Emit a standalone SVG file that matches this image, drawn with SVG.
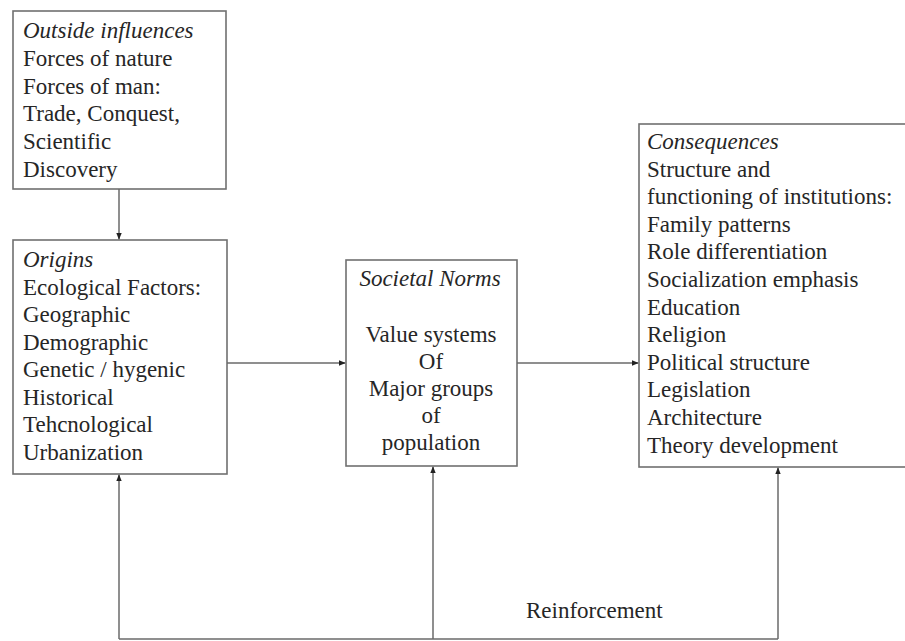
<svg xmlns="http://www.w3.org/2000/svg" width="905" height="641" viewBox="0 0 905 641">
<style>
.box{fill:#fff;stroke:#707070;stroke-width:1.6}
.t{font-family:"Liberation Serif","Times New Roman",serif;font-size:23px;fill:#262626}
.i{font-style:italic}
.c{text-anchor:middle}
.ln{fill:none;stroke:#6a6a6a;stroke-width:1.5}
</style>
<defs>
<marker id="ah" viewBox="0 0 10 10" refX="9" refY="5" markerWidth="7" markerHeight="7" orient="auto" markerUnits="userSpaceOnUse">
<path d="M0,1 L10,5 L0,9 z" fill="#222"/>
</marker>
</defs>
<rect width="905" height="641" fill="#fff"/>
<g id="outside">
<rect class="box" x="13" y="11" width="213" height="178"/>
<text class="t" x="23" y="38"><tspan class="i" x="23" y="38">Outside influences</tspan><tspan x="23" y="66">Forces of nature</tspan><tspan x="23" y="94">Forces of man:</tspan><tspan x="23" y="121">Trade, Conquest,</tspan><tspan x="23" y="149">Scientific</tspan><tspan x="23" y="177">Discovery</tspan></text>
</g>
<g id="origins">
<rect class="box" x="13" y="240" width="214" height="234"/>
<text class="t"><tspan class="i" x="23" y="267">Origins</tspan><tspan x="23" y="294.5">Ecological Factors:</tspan><tspan x="23" y="322">Geographic</tspan><tspan x="23" y="349.5">Demographic</tspan><tspan x="23" y="377">Genetic / hygenic</tspan><tspan x="23" y="404.5">Historical</tspan><tspan x="23" y="432">Tehcnological</tspan><tspan x="23" y="459.5">Urbanization</tspan></text>
</g>
<g id="norms">
<rect class="box" x="346" y="260" width="171" height="206"/>
<text class="t c"><tspan class="i" x="430" y="286">Societal Norms</tspan><tspan x="431" y="342">Value systems</tspan><tspan x="431" y="369">Of</tspan><tspan x="431" y="396">Major groups</tspan><tspan x="431" y="423">of</tspan><tspan x="431" y="450">population</tspan></text>
</g>
<g id="consequences">
<rect class="box" x="639" y="124" width="275" height="343"/>
<text class="t"><tspan class="i" x="647" y="149">Consequences</tspan><tspan x="647" y="176.6">Structure and</tspan><tspan x="647" y="204.2">functioning of institutions:</tspan><tspan x="647" y="231.8">Family patterns</tspan><tspan x="647" y="259.4">Role differentiation</tspan><tspan x="647" y="287">Socialization emphasis</tspan><tspan x="647" y="314.6">Education</tspan><tspan x="647" y="342.2">Religion</tspan><tspan x="647" y="369.8">Political structure</tspan><tspan x="647" y="397.4">Legislation</tspan><tspan x="647" y="425">Architecture</tspan><tspan x="647" y="452.6">Theory development</tspan></text>
</g>
<g id="connectors">
<line class="ln" x1="119" y1="189" x2="119" y2="239" marker-end="url(#ah)"/>
<line class="ln" x1="227" y1="363" x2="345" y2="363" marker-end="url(#ah)"/>
<line class="ln" x1="517" y1="363" x2="638" y2="363" marker-end="url(#ah)"/>
<polyline class="ln" points="119,639 778,639"/>
<line class="ln" x1="119" y1="639" x2="119" y2="475" marker-end="url(#ah)"/>
<line class="ln" x1="433" y1="639" x2="433" y2="467" marker-end="url(#ah)"/>
<line class="ln" x1="778" y1="639" x2="778" y2="468" marker-end="url(#ah)"/>
<text class="t" x="526" y="618">Reinforcement</text>
</g>
</svg>
